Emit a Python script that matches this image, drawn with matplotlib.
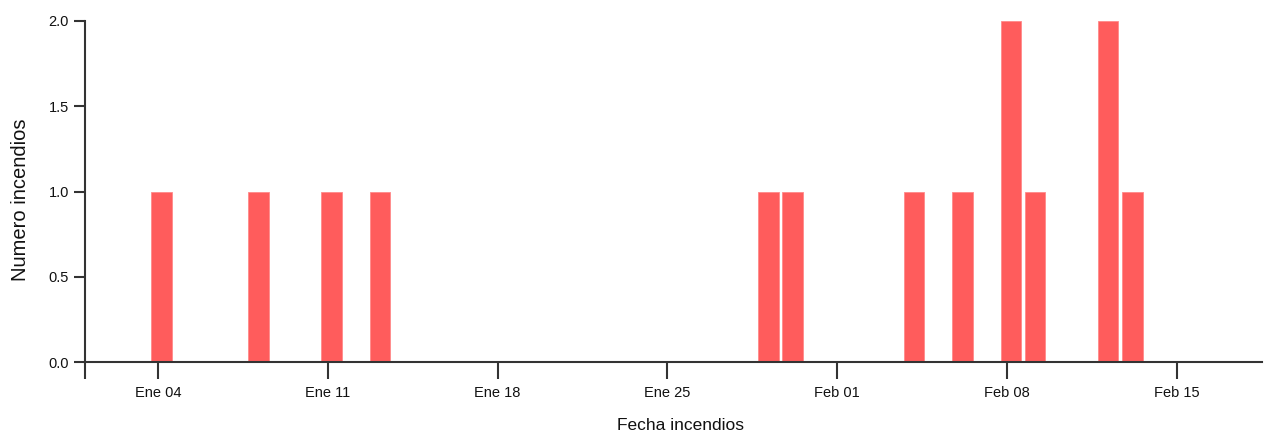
import datetime as dt
import matplotlib
matplotlib.use("Agg")
import matplotlib.pyplot as plt
import matplotlib.dates as mdates
from matplotlib.ticker import FuncFormatter, MultipleLocator

# Datos: incendios por fecha
fechas = ["2015-01-04", "2015-01-08", "2015-01-11", "2015-01-13",
          "2015-01-29", "2015-01-30", "2015-02-04", "2015-02-06",
          "2015-02-08", "2015-02-09", "2015-02-12", "2015-02-13"]
incendios = [1, 1, 1, 1, 1, 1, 1, 1, 2, 1, 2, 1]

tick_fechas = ["2015-01-04", "2015-01-11", "2015-01-18", "2015-01-25",
               "2015-02-01", "2015-02-08", "2015-02-15"]
meses = ["Ene", "Feb", "Mar", "Abr", "May", "Jun",
         "Jul", "Ago", "Sep", "Oct", "Nov", "Dic"]

BAR_COLOR = "#ff5c5c"
AXIS_COLOR = "#333333"

plt.rcParams['font.family'] = ['Liberation Sans', 'DejaVu Sans']

dias = [dt.datetime.strptime(f, "%Y-%m-%d") for f in fechas]
ticks = [dt.datetime.strptime(f, "%Y-%m-%d") for f in tick_fechas]

fig = plt.figure(figsize=(12.67, 4.37), dpi=100)
ax = fig.add_axes([0.0671, 0.1709, 0.9289, 0.7811])

# barras desplazadas ~6h (zona horaria), ancho ~0.85 dia
inicio = [mdates.date2num(d) - 0.27 for d in dias]
ax.bar(inicio, incendios, width=0.85, align='edge', color=BAR_COLOR,
       edgecolor="#ff8a8a", linewidth=0.6, zorder=2)

x0 = mdates.date2num(dt.datetime(2015, 1, 1))
x1 = mdates.date2num(dt.datetime(2015, 2, 18, 12))
ax.set_xlim(x0, x1)
ax.set_ylim(0, 2)

ax.set_xticks([mdates.date2num(t) for t in ticks])
ax.set_xticks([x0], minor=True)
ax.xaxis.set_major_formatter(FuncFormatter(
    lambda v, p: "%s %02d" % (meses[mdates.num2date(v).month - 1], mdates.num2date(v).day)))
ax.yaxis.set_major_locator(MultipleLocator(0.5))
ax.yaxis.set_major_formatter(FuncFormatter(lambda v, p: "%.1f" % v))

for s in ['top', 'right']:
    ax.spines[s].set_visible(False)
for s in ['left', 'bottom']:
    ax.spines[s].set_color(AXIS_COLOR)
    ax.spines[s].set_linewidth(1.5)

ax.tick_params(axis='x', which='both', length=12, width=1.5, color=AXIS_COLOR,
               labelsize=10.5, pad=5, labelcolor="#111111")
ax.tick_params(axis='y', length=8, width=1.5, color=AXIS_COLOR,
               labelsize=10.5, pad=3.5, labelcolor="#111111")

ax.set_xlabel("Fecha incendios", fontsize=12.5, color="#111111")
ax.xaxis.set_label_coords(0.506, -0.163)
ax.set_ylabel("Numero incendios", fontsize=14.5, color="#111111")
ax.yaxis.set_label_coords(-0.0467, 0.4755)

fig.savefig("out.png", dpi=100)
